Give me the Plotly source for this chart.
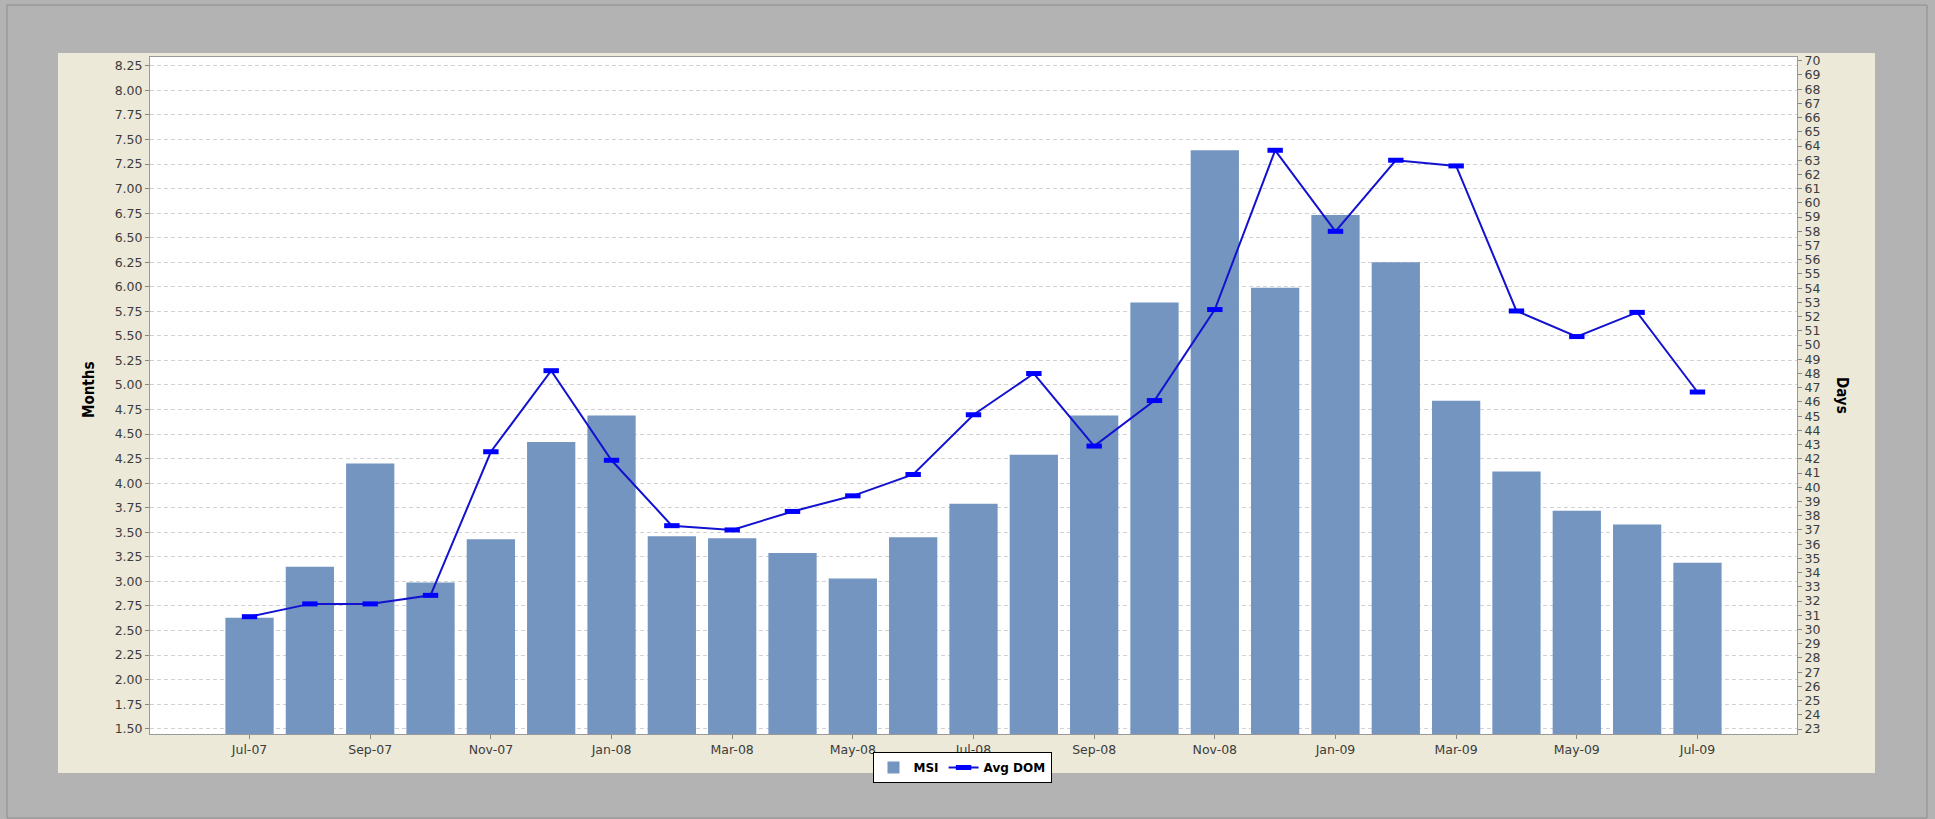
import plotly.graph_objects as go

# ---- data ----
months = ["Jul-07", "Aug-07", "Sep-07", "Oct-07", "Nov-07", "Dec-07",
          "Jan-08", "Feb-08", "Mar-08", "Apr-08", "May-08", "Jun-08",
          "Jul-08", "Aug-08", "Sep-08", "Oct-08", "Nov-08", "Dec-08",
          "Jan-09", "Feb-09", "Mar-09", "Apr-09", "May-09", "Jun-09", "Jul-09"]
msi = [2.63, 3.15, 4.20, 2.99, 3.43, 4.42, 4.69, 3.46, 3.44, 3.29, 3.03, 3.45,
       3.79, 4.29, 4.69, 5.84, 7.39, 5.99, 6.73, 6.25, 4.84, 4.12, 3.72, 3.58, 3.19]
avg_dom = [30.9, 31.8, 31.8, 32.4, 42.5, 48.2, 41.9, 37.3, 37.0, 38.3, 39.4, 40.9,
           45.1, 48.0, 42.9, 46.1, 52.5, 63.7, 58.0, 63.0, 62.6, 52.4, 50.6, 52.3, 46.7]
x_tick_labels = months[::2]
left_title = "Months"
right_title = "Days"

# ---- page geometry (pixels) ----
W, H = 1935, 819
PL, PR, PT, PB = 150, 1797, 57, 734
pw, ph = PR - PL, PB - PT


def px_x(x):
    return (x - PL) / pw


def px_y(y):
    return (PB - y) / ph


tick_font = dict(family="DejaVu Sans, Verdana, sans-serif", size=12.5, color="#3c3c3c")
title_font = dict(family="Liberation Sans Narrow, DejaVu Sans Condensed, Arial Narrow, sans-serif",
                  size=15, color="#000000", weight="bold")

fig = go.Figure()
fig.add_trace(go.Bar(
    x=months, y=msi, name="MSI", marker=dict(color="#7395C0", line=dict(width=0)),
    width=0.8, yaxis="y",
))
fig.add_trace(go.Scatter(
    x=months, y=avg_dom, name="Avg DOM", mode="lines+markers", yaxis="y2",
    line=dict(color="#1212D0", width=2),
    marker=dict(symbol="line-ew", size=11, color="#0000FF",
                line=dict(color="#0000FF", width=5)),
))

shapes = [
    # outer frame
    dict(type="rect", xref="paper", yref="paper", layer="below",
         x0=px_x(7), x1=px_x(1927), y0=px_y(818), y1=px_y(5),
         line=dict(color="#8c8c8c", width=1), fillcolor="#B3B3B3"),
    # beige chart panel
    dict(type="rect", xref="paper", yref="paper", layer="below",
         x0=px_x(58), x1=px_x(1875), y0=px_y(773), y1=px_y(53),
         line=dict(width=0), fillcolor="#ECE9D8"),
    # white plot area
    dict(type="rect", xref="paper", yref="paper", layer="below",
         x0=0, x1=1, y0=0, y1=1, line=dict(width=0), fillcolor="#FFFFFF"),
]

annotations = [
    dict(text=left_title, xref="paper", yref="paper", x=px_x(89), y=px_y(390),
         textangle=-90, showarrow=False, font=title_font, xanchor="center", yanchor="middle"),
    dict(text=right_title, xref="paper", yref="paper", x=px_x(1842), y=px_y(395),
         textangle=90, showarrow=False, font=title_font, xanchor="center", yanchor="middle"),
]

fig.update_layout(
    width=W, height=H,
    margin=dict(l=PL, r=W - PR, t=PT, b=H - PB, pad=0),
    paper_bgcolor="#B3B3B3", plot_bgcolor="rgba(0,0,0,0)",
    showlegend=True,
    legend=dict(orientation="h", x=px_x(962), xanchor="center", y=px_y(752), yanchor="top",
                bgcolor="#FFFFFF", bordercolor="#000000", borderwidth=1,
                font=dict(family="DejaVu Sans, Arial, sans-serif", size=12, color="#000000", weight="bold"),
                itemwidth=30, tracegroupgap=0),
    bargap=0.2,
    shapes=shapes,
    annotations=annotations,
    xaxis=dict(
        type="category", range=[-1.65, 25.65],
        tickmode="array", tickvals=x_tick_labels, ticktext=x_tick_labels,
        ticks="outside", ticklen=4, tickcolor="#888888",
        showline=True, linecolor="#999999", linewidth=1, mirror=True,
        showgrid=False, zeroline=False, tickfont=tick_font,
    ),
    yaxis=dict(
        range=[1.446, 8.34], tick0=1.5, dtick=0.25, tickformat=".2f",
        ticks="outside", ticklen=4, tickcolor="#888888",
        showline=True, linecolor="#999999", linewidth=1,
        showgrid=True, gridcolor="#D2D2D2", griddash="4px,3px", gridwidth=1,
        zeroline=False, tickfont=tick_font,
    ),
    yaxis2=dict(
        overlaying="y", side="right", range=[22.65, 70.26], tick0=23, dtick=1,
        ticks="outside", ticklen=4, tickcolor="#888888",
        showline=True, linecolor="#999999", linewidth=1,
        showgrid=False, zeroline=False, tickfont=tick_font,
    ),
)

fig.write_html(
    "out.html",
    config={"displayModeBar": False},
    post_script="document.body.style.margin='0';document.body.style.background='#B3B3B3';"
                "document.body.style.overflow='hidden';",
)
